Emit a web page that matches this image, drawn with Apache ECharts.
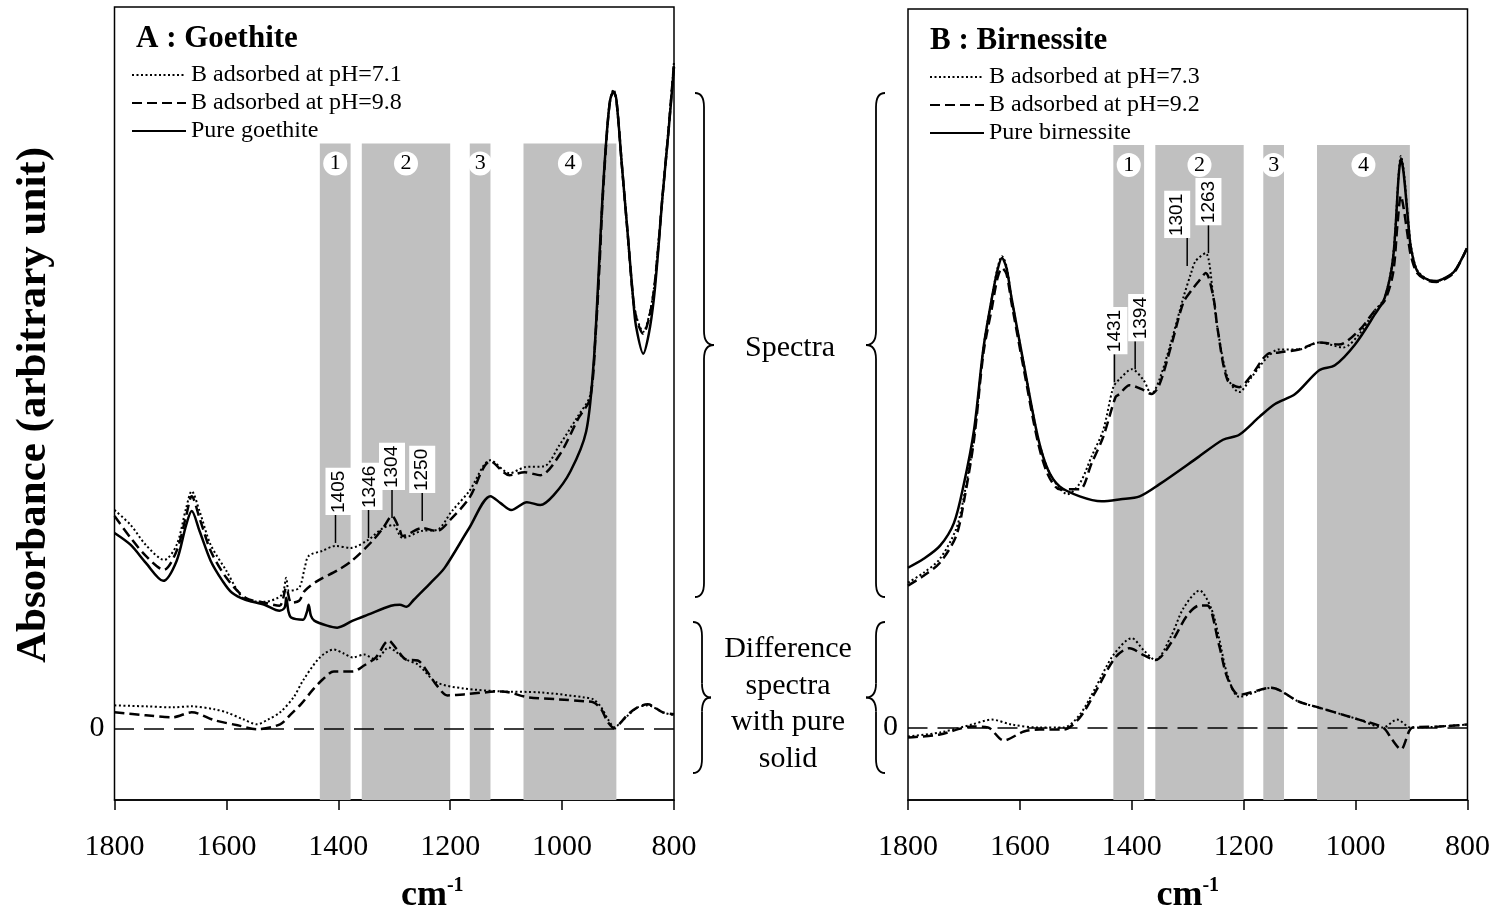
<!DOCTYPE html>
<html>
<head>
<meta charset="utf-8">
<script src="https://cdn.jsdelivr.net/npm/echarts@6/dist/echarts.min.js"></script>
<style>
  html, body { margin: 0; padding: 0; background: #fff; }
  #chart { width: 1506px; height: 919px; }
</style>
</head>
<body>
<div id="chart"></div>
<script>
// ---------- Panel A : goethite (absorbance, arbitrary units) ----------
const goePureWn = [1800,1771,1744,1713,1689,1672,1662,1648,1628,1607,1590,1566,1532,1505,1496,1493,1489,1484,1463,1456,1453,1449,1443,1420,1402,1374,1347,1306,1290,1278,1265,1258,1235,1210,1166,1128,1110,1091,1063,1039,1015,985,957,944,937,928,920,914,908,903,893,883,873,868,855,845,836,828,821,810,800];
const goePure   = [1.96,1.84,1.66,1.48,1.68,2.04,2.18,1.98,1.68,1.48,1.36,1.29,1.24,1.18,1.21,1.31,1.17,1.11,1.09,1.17,1.24,1.13,1.08,1.03,1.01,1.08,1.14,1.23,1.24,1.22,1.29,1.33,1.46,1.61,2.01,2.33,2.26,2.19,2.27,2.24,2.34,2.58,2.98,3.64,4.31,5.31,5.98,6.31,6.39,6.31,5.64,4.98,4.31,4.04,3.76,3.96,4.31,4.81,5.31,5.98,6.64];

const goePH71Wn = [1800,1771,1744,1711,1689,1672,1662,1648,1628,1600,1580,1566,1532,1501,1493,1488,1470,1460,1453,1429,1405,1378,1347,1320,1302,1285,1251,1224,1197,1166,1128,1094,1067,1032,1005,971,950,940,933,928,920,914,908,903,893,883,873,866,855,845,836,828,821,810,800];
const goePH71   = [2.19,2.04,1.84,1.69,1.84,2.21,2.38,2.18,1.84,1.58,1.38,1.29,1.27,1.34,1.51,1.38,1.41,1.61,1.73,1.78,1.83,1.81,1.89,2.01,2.04,1.91,1.98,1.99,2.18,2.38,2.69,2.56,2.62,2.63,2.84,3.14,3.34,3.98,4.71,5.31,5.98,6.31,6.41,6.31,5.64,4.98,4.31,4.11,3.98,4.13,4.41,4.86,5.31,6.01,6.69];

const goePH98Wn = [1800,1771,1744,1712,1689,1672,1662,1648,1628,1600,1566,1532,1505,1493,1484,1470,1460,1437,1400,1376,1339,1320,1304,1290,1285,1250,1224,1197,1166,1128,1094,1067,1039,1005,971,950,940,933,928,920,914,908,903,893,883,873,866,855,845,836,828,821,810,800];
const goePH98   = [2.13,1.91,1.73,1.59,1.78,2.13,2.33,2.11,1.78,1.51,1.31,1.26,1.23,1.41,1.26,1.28,1.38,1.48,1.59,1.68,1.88,2.01,2.13,1.99,1.93,2.01,1.98,2.11,2.31,2.68,2.54,2.57,2.54,2.74,3.11,3.31,3.96,4.66,5.26,5.96,6.31,6.39,6.31,5.64,4.98,4.31,4.09,3.96,4.11,4.39,4.84,5.31,5.99,6.67];

// difference spectra (sample minus pure goethite)
const goeDiff71Wn = [1800,1744,1696,1662,1621,1600,1570,1545,1525,1504,1480,1463,1433,1408,1390,1374,1354,1333,1310,1295,1279,1258,1224,1176,1108,1039,960,944,930,918,906,895,882,865,847,820,800];
const goeDiff71   = [0.23,0.22,0.21,0.22,0.19,0.16,0.09,0.04,0.09,0.16,0.31,0.48,0.71,0.79,0.75,0.71,0.74,0.69,0.81,0.76,0.69,0.64,0.46,0.40,0.37,0.36,0.31,0.29,0.21,0.09,0.01,0.06,0.13,0.21,0.23,0.16,0.13];
const goeDiff98Wn = [1800,1744,1696,1662,1621,1580,1545,1504,1485,1467,1445,1428,1408,1374,1354,1333,1310,1295,1279,1258,1240,1224,1205,1176,1108,1060,1005,960,944,930,918,906,895,882,865,847,820,800];
const goeDiff98   = [0.16,0.13,0.11,0.16,0.08,0.03,-0.01,0.04,0.14,0.24,0.39,0.49,0.57,0.57,0.63,0.71,0.88,0.79,0.69,0.68,0.56,0.43,0.33,0.34,0.37,0.31,0.29,0.27,0.26,0.19,0.06,0.00,0.06,0.14,0.21,0.24,0.16,0.14];

const goePeaks = [1405, 1346, 1304, 1250];

// ---------- Panel B : birnessite ----------
const birPureWn = [1800,1772,1743,1718,1700,1682,1665,1650,1640,1632,1624,1615,1593,1568,1550,1529,1493,1454,1420,1386,1351,1280,1237,1208,1172,1144,1108,1065,1037,1001,966,948,933,923,919,914,905,901,890,870,855,840,823,801];
const birPure   = [1.61,1.70,1.83,2.06,2.46,3.00,3.83,4.33,4.61,4.73,4.63,4.33,3.66,2.93,2.60,2.43,2.33,2.28,2.30,2.33,2.45,2.73,2.90,2.95,3.13,3.26,3.36,3.60,3.65,3.86,4.16,4.33,4.73,5.56,5.73,5.58,5.03,4.83,4.60,4.51,4.50,4.53,4.60,4.83];

const birPH73Wn = [1800,1772,1743,1714,1700,1682,1665,1650,1640,1632,1624,1615,1593,1568,1550,1529,1515,1493,1472,1451,1433,1422,1400,1379,1365,1351,1329,1308,1294,1286,1268,1254,1247,1229,1208,1186,1158,1137,1101,1065,1022,994,966,948,933,923,919,914,905,901,890,870,855,840,823,801];
const birPH73   = [1.46,1.56,1.70,2.00,2.33,2.93,3.83,4.33,4.63,4.75,4.65,4.33,3.66,2.93,2.60,2.41,2.35,2.46,2.73,3.00,3.43,3.51,3.61,3.50,3.36,3.50,3.90,4.33,4.58,4.70,4.78,4.33,4.03,3.53,3.38,3.53,3.73,3.81,3.81,3.88,3.83,3.96,4.20,4.33,4.75,5.58,5.76,5.61,5.05,4.85,4.61,4.51,4.50,4.53,4.60,4.83];

const birPH92Wn = [1800,1772,1743,1714,1700,1682,1665,1650,1640,1632,1624,1615,1593,1568,1550,1529,1515,1493,1472,1451,1429,1422,1404,1379,1365,1351,1329,1308,1294,1280,1268,1254,1247,1229,1208,1186,1158,1137,1101,1065,1030,994,966,948,933,925,919,914,905,901,890,870,855,840,823,801];
const birPH92   = [1.43,1.53,1.66,1.93,2.28,2.90,3.78,4.23,4.53,4.63,4.57,4.28,3.61,2.88,2.55,2.40,2.40,2.40,2.66,2.93,3.33,3.36,3.45,3.40,3.36,3.45,3.86,4.28,4.40,4.50,4.58,4.33,4.03,3.50,3.43,3.55,3.76,3.78,3.81,3.88,3.86,4.00,4.20,4.30,4.58,5.08,5.36,5.23,4.88,4.75,4.58,4.50,4.49,4.52,4.59,4.83];

// difference spectra (sample minus pure birnessite)
const birDiff73Wn = [1800,1743,1686,1650,1615,1565,1522,1493,1465,1433,1400,1379,1358,1329,1308,1279,1258,1244,1229,1208,1151,1101,1065,994,951,926,901,851,801];
const birDiff73   = [-0.09,-0.05,0.03,0.08,0.03,0.00,0.00,0.13,0.40,0.73,0.90,0.78,0.68,0.93,1.20,1.38,1.20,0.90,0.53,0.31,0.40,0.26,0.20,0.08,0.00,0.08,0.00,0.01,0.03];
const birDiff92Wn = [1800,1743,1686,1657,1629,1593,1565,1522,1493,1465,1429,1404,1379,1358,1329,1301,1279,1265,1244,1229,1208,1151,1101,1065,994,951,935,919,898,851,801];
const birDiff92   = [-0.10,-0.07,0.01,0.00,-0.13,-0.04,-0.02,-0.02,0.10,0.36,0.71,0.80,0.73,0.68,0.86,1.13,1.23,1.23,0.83,0.50,0.33,0.40,0.26,0.20,0.08,0.00,-0.12,-0.22,0.00,0.01,0.03];

const birPeaks = [1431, 1394, 1301, 1263];

// ---------- spectral regions (cm-1) ----------
const bandFrom  = [1433, 1358, 1165, 1069];
const bandTo    = [1378, 1200, 1128, 903];
const bandNames = ['1', '2', '3', '4'];

// ---------- layout helpers ----------
const SERIF = '"Liberation Serif", "Times New Roman", serif';
const Y_RANGE = [{ min: -0.72, max: 7.24 }, { min: -0.73, max: 7.24 }];
const BAND_TOP = 5.87;
// base height of the peak tick marks and horizontal nudges of their labels
const goePeakBase = [1.86, 1.91, 2.11, 2.08];
const goePeakShift = [3, 1, 0, 0];
const birPeakBase = [3.48, 3.61, 4.65, 4.78];
const birPeakShift = [0, 6, -10, 0];

const pts = (wn, v) => wn.map((w, i) => [w, v[i]]);

const STYLE = {
  dotted: { color: '#000', width: 2, type: [2, 2.5] },
  dashed: { color: '#000', width: 2.5, type: [10, 5] },
  solid:  { color: '#000', width: 2.5, type: 'solid' }
};

function line(name, wn, vals, style, idx, extra) {
  return Object.assign({
    type: 'line', name, xAxisIndex: idx, yAxisIndex: idx,
    data: pts(wn, vals), symbol: 'none', smooth: 0.3,
    itemStyle: { color: '#000' },
    lineStyle: STYLE[style], silent: true, z: 3
  }, extra || {});
}

function bandsAndZero(idx) {
  return {
    markArea: {
      silent: true,
      itemStyle: { color: '#c0c0c0' },
      label: {
        show: true, position: 'insideTop', distance: 8,
        color: '#000', fontFamily: SERIF, fontSize: 22,
        backgroundColor: '#fff', borderRadius: 12,
        width: 24, height: 24, lineHeight: 24, align: 'center', padding: 0
      },
      data: bandFrom.map((f, i) => [
        { name: bandNames[i], xAxis: f, yAxis: Y_RANGE[idx].min },
        { xAxis: bandTo[i], yAxis: BAND_TOP }
      ])
    },
    markLine: {
      silent: true, symbol: 'none',
      lineStyle: { color: '#000', width: 1.5, type: [20, 10] },
      label: { show: false },
      data: [{ yAxis: 0 }]
    }
  };
}

function peakMarks(peaks, base, shift, idx) {
  return {
    type: 'custom', xAxisIndex: idx, yAxisIndex: idx, silent: true, z: 6,
    data: peaks.map((p, i) => [p, base[i], shift[i]]),
    renderItem: (params, api) => {
      const p = api.coord([api.value(0), api.value(1)]);
      const len = 28;
      return {
        type: 'group',
        children: [
          { type: 'line', shape: { x1: p[0], y1: p[1], x2: p[0], y2: p[1] - len },
            style: { stroke: '#000', lineWidth: 1.5 } },
          { type: 'text', x: p[0] + api.value(2), y: p[1] - len, rotation: Math.PI / 2,
            style: { text: String(api.value(0)), fill: '#000',
                     font: '19px "Liberation Sans", Arial, sans-serif',
                     backgroundColor: '#fff', padding: [4, 3, 3, 2],
                     align: 'left', verticalAlign: 'middle' } }
        ]
      };
    }
  };
}

function xAxis(idx, namePad) {
  return {
    type: 'value', gridIndex: idx, min: 800, max: 1800, interval: 200, inverse: true,
    axisLine: { show: true, onZero: false, lineStyle: { color: '#000', width: 1.5 } },
    axisTick: { show: true, inside: false, length: 10, lineStyle: { color: '#000', width: 1.5 } },
    axisLabel: { color: '#000', fontFamily: SERIF, fontSize: 30, margin: 32,
                 formatter: v => String(v) },
    splitLine: { show: false },
    name: '{a|cm}{b|-1}', nameLocation: 'middle', nameGap: 76,
    nameTextStyle: {
      padding: namePad,
      rich: {
        a: { fontFamily: SERIF, fontWeight: 'bold', fontSize: 36, color: '#000', lineHeight: 40 },
        b: { fontFamily: SERIF, fontWeight: 'bold', fontSize: 20, color: '#000', lineHeight: 20, verticalAlign: 'top' }
      }
    }
  };
}

function yAxis(idx) {
  return {
    type: 'value', gridIndex: idx, min: Y_RANGE[idx].min, max: Y_RANGE[idx].max,
    axisLine: { show: false }, axisTick: { show: false }, splitLine: { show: false },
    axisLabel: { show: true, customValues: [0], formatter: () => '0', color: '#000',
                 fontFamily: SERIF, fontSize: 30, margin: 10 }
  };
}

// curly brace built from quadratic curves and straight segments
function brace(xEnd, xSpine, xTip, y1, y2) {
  const ym = (y1 + y2) / 2, r = 14;
  const st = { stroke: '#000', lineWidth: 1.8, fill: null };
  const q = (x1, y1_, cx, cy, x2, y2_) => ({ type: 'bezierCurve',
    shape: { x1, y1: y1_, cpx1: cx, cpy1: cy, x2, y2: y2_ }, style: st });
  const l = (x1, y1_, x2, y2_) => ({ type: 'line', shape: { x1, y1: y1_, x2, y2: y2_ }, style: st });
  return [
    q(xEnd, y1, xSpine, y1, xSpine, y1 + r),
    l(xSpine, y1 + r, xSpine, ym - r),
    q(xSpine, ym - r, xSpine, ym, xTip, ym),
    q(xTip, ym, xSpine, ym, xSpine, ym + r),
    l(xSpine, ym + r, xSpine, y2 - r),
    q(xSpine, y2 - r, xSpine, y2, xEnd, y2)
  ];
}

const legendCommon = {
  padding: 0, orient: 'vertical', itemWidth: 54, itemHeight: 14, itemGap: 4,
  selectedMode: false,
  itemStyle: { color: 'rgba(0,0,0,0)', borderColor: 'rgba(0,0,0,0)', borderWidth: 0 },
  textStyle: { fontFamily: SERIF, fontSize: 24, color: '#000', lineHeight: 24 }
};

const chart = echarts.init(document.getElementById('chart'), null, { renderer: 'canvas' });
chart.setOption({
  backgroundColor: '#fff',
  animation: false,
  title: [
    { text: 'A : Goethite', left: 136, top: 23, padding: 0,
      textStyle: { fontFamily: SERIF, fontWeight: 'bold', fontSize: 31, color: '#000' } },
    { text: 'B : Birnessite', left: 930, top: 25, padding: 0,
      textStyle: { fontFamily: SERIF, fontWeight: 'bold', fontSize: 31, color: '#000' } }
  ],
  legend: [
    Object.assign({ left: 131, top: 63,
      data: ['B adsorbed at pH=7.1', 'B adsorbed at pH=9.8', 'Pure goethite'] }, legendCommon),
    Object.assign({ left: 929, top: 65,
      data: ['B adsorbed at pH=7.3', 'B adsorbed at pH=9.2', 'Pure birnessite'] }, legendCommon)
  ],
  grid: [
    { left: 114.5, top: 7, width: 559.5, height: 796, show: true, borderColor: '#000', borderWidth: 1.5 },
    { left: 908, top: 9, width: 559.5, height: 797, show: true, borderColor: '#000', borderWidth: 1.5 }
  ],
  xAxis: [xAxis(0, [0, 0, 0, 76]), xAxis(1, [0, 0, 0, 0])],
  yAxis: [yAxis(0), yAxis(1)],
  series: [
    line('Pure goethite', goePureWn, goePure, 'solid', 0, bandsAndZero(0)),
    line('B adsorbed at pH=7.1', goePH71Wn, goePH71, 'dotted', 0),
    line('B adsorbed at pH=9.8', goePH98Wn, goePH98, 'dashed', 0),
    line('B adsorbed at pH=7.1', goeDiff71Wn, goeDiff71, 'dotted', 0),
    line('B adsorbed at pH=9.8', goeDiff98Wn, goeDiff98, 'dashed', 0),
    peakMarks(goePeaks, goePeakBase, goePeakShift, 0),

    line('Pure birnessite', birPureWn, birPure, 'solid', 1, bandsAndZero(1)),
    line('B adsorbed at pH=7.3', birPH73Wn, birPH73, 'dotted', 1),
    line('B adsorbed at pH=9.2', birPH92Wn, birPH92, 'dashed', 1),
    line('B adsorbed at pH=7.3', birDiff73Wn, birDiff73, 'dotted', 1),
    line('B adsorbed at pH=9.2', birDiff92Wn, birDiff92, 'dashed', 1),
    peakMarks(birPeaks, birPeakBase, birPeakShift, 1)
  ],
  graphic: [
    { type: 'text', x: 34, y: 405, rotation: Math.PI / 2,
      style: { text: 'Absorbance (arbitrary unit)', fill: '#000',
               font: 'bold 43px "Liberation Serif", serif', align: 'center', verticalAlign: 'middle' } },
    ...brace(695, 704, 714, 93, 597),
    ...brace(885, 876, 866, 93, 597),
    ...brace(693, 702, 711, 622, 773),
    ...brace(885, 876, 866, 622, 773),
    { type: 'text', x: 790, y: 348,
      style: { text: 'Spectra', fill: '#000', font: '30px "Liberation Serif", serif',
               align: 'center', verticalAlign: 'middle' } },
    { type: 'text', x: 788, y: 704,
      style: { text: 'Difference\nspectra\nwith pure\nsolid', fill: '#000',
               font: '30px "Liberation Serif", serif', lineHeight: 36.7,
               align: 'center', verticalAlign: 'middle' } }
  ]
});
</script>
</body>
</html>
